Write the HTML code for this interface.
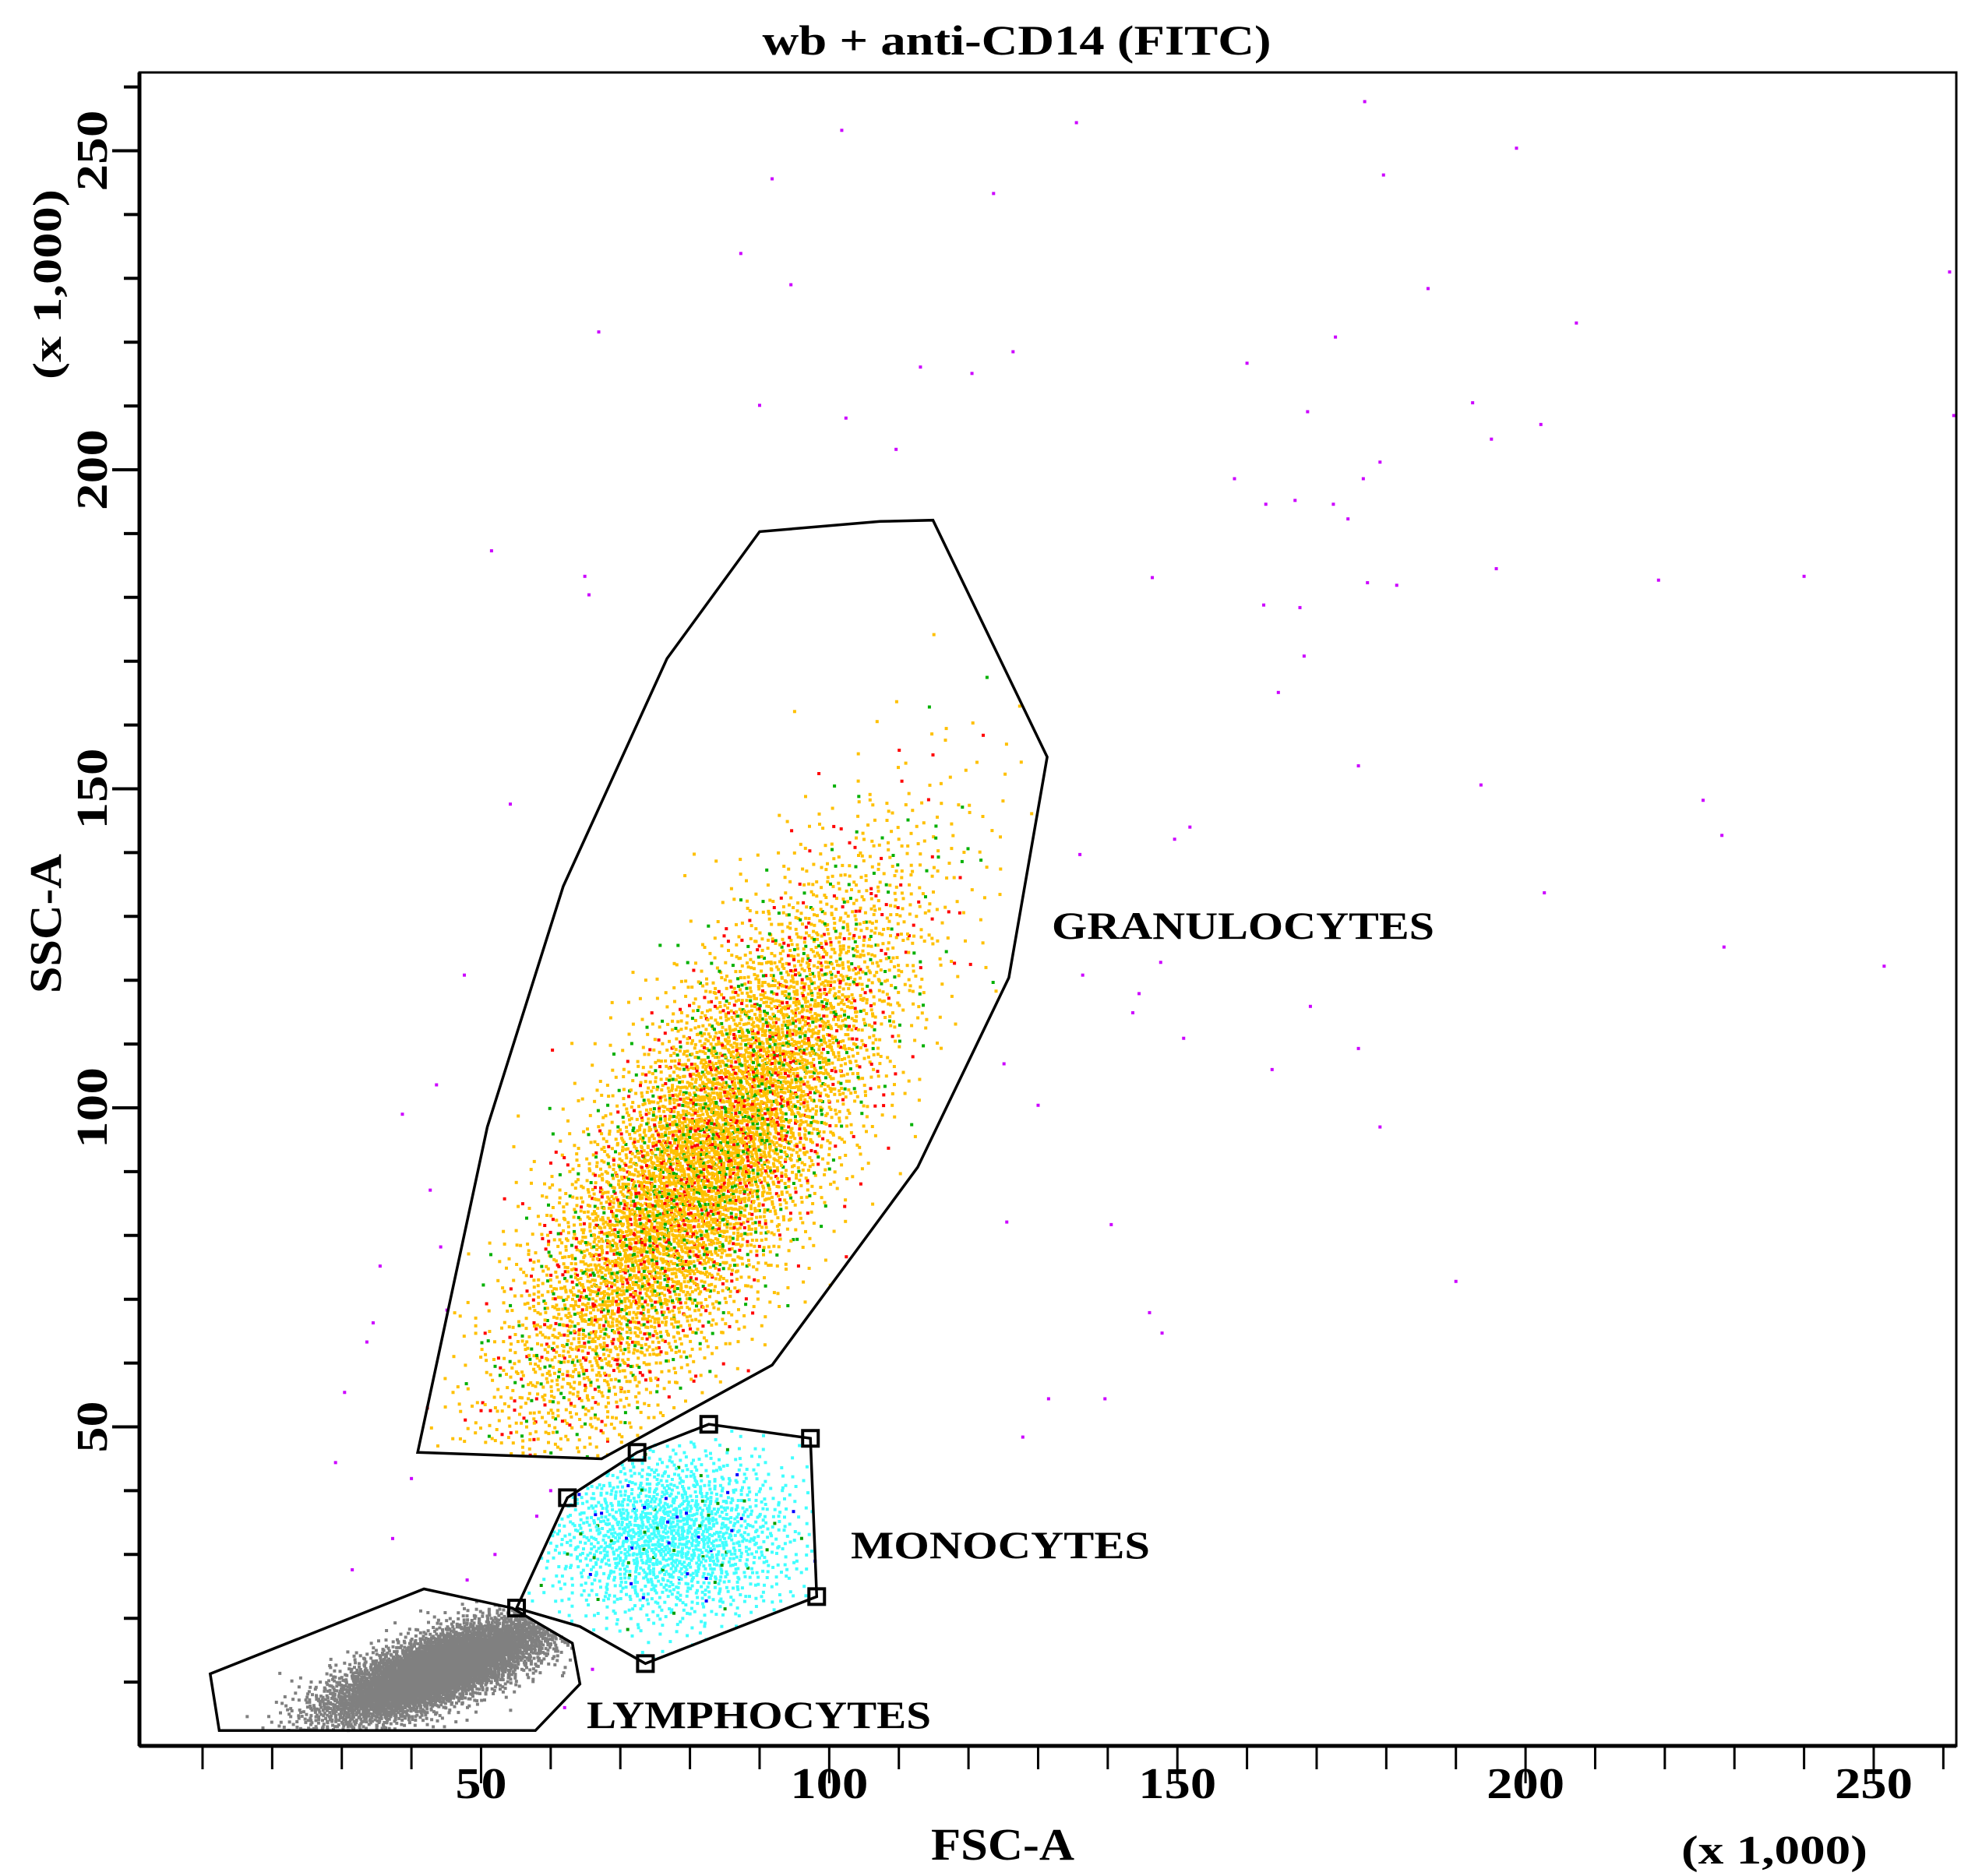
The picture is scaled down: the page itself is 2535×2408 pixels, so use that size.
<!DOCTYPE html>
<html><head><meta charset="utf-8"><style>
html,body{margin:0;padding:0;background:#fff;}
svg{display:block;font-family:"Liberation Serif",serif;font-weight:bold;}
</style></head><body>
<svg id="chart" width="2535" height="2408" viewBox="0 0 2535 2408" xmlns="http://www.w3.org/2000/svg">
<rect x="0" y="0" width="2535" height="2408" fill="#fff"/>
<text x="1305" y="70" font-size="54" text-anchor="middle" textLength="653" lengthAdjust="spacingAndGlyphs">wb + anti-CD14 (FITC)</text>
<g id="dots"></g>
<g id="gates"></g>
<g id="axes"></g>
<text x="1350" y="1205" font-size="50" textLength="491" lengthAdjust="spacingAndGlyphs">GRANULOCYTES</text>
<text x="1092" y="2000" font-size="50" textLength="384" lengthAdjust="spacingAndGlyphs">MONOCYTES</text>
<text x="753" y="2218" font-size="50" textLength="442" lengthAdjust="spacingAndGlyphs">LYMPHOCYTES</text>
<text x="1195" y="2387" font-size="58" textLength="184" lengthAdjust="spacingAndGlyphs">FSC-A</text>
<text x="2158" y="2392" font-size="52" textLength="239" lengthAdjust="spacingAndGlyphs">(x 1,000)</text>
<text transform="translate(78,1275) rotate(-90)" font-size="58" textLength="179" lengthAdjust="spacingAndGlyphs">SSC-A</text>
<text transform="translate(78,487) rotate(-90)" font-size="52" textLength="244" lengthAdjust="spacingAndGlyphs">(x 1,000)</text>
</svg>
<script>
const xTicks = [50, 100, 150, 200, 250];
const yTicks = [50, 100, 150, 200, 250];
const granGate = [[40.9,46.0],[67.3,45.0],[91.8,59.7],[112.7,90.7],[125.8,120.4],[131.3,155.0],[114.9,192.1],[107.3,191.9],[90,190.3],[76.7,170.4],[61.8,134.7],[50.9,97.0]];
const monoGate = [[55.1,21.6],[62.4,38.9],[72.4,46.0],[82.7,50.4],[97.3,48.2],[98.2,23.4],[73.6,12.9],[64.2,18.7]];
const monoHandles = [[55.1,21.6],[62.4,38.9],[72.4,46.0],[82.7,50.4],[97.3,48.2],[98.2,23.4],[73.6,12.9]];
const lymphGate = [[11.1,11.3],[12.4,2.4],[57.8,2.4],[64.2,9.7],[63.1,16.1],[54.5,21.6],[41.8,24.6]];
// population clusters: center x, center y (data units), count
const clusterNames = ["granulocytes","monocytes","lymphocytes"];
const clusterCX = [82.5, 77, 44];
const clusterCY = [92, 33, 12];
const clusterN = [7500, 1800, 5500];
const outliers = [[101.8,253.2],[91.8,245.6],[123.6,243.3],[135.5,254.4],[176.9,257.7],[179.6,246.2],[198.7,250.4],[87.3,233.9],[94.5,229.0],[66.9,221.6],[113.1,216.1],[120.5,215.1],[126.4,218.5],[90.0,210.1],[102.4,208.1],[109.6,203.2],[160.0,216.7],[172.7,220.8],[186.0,228.4],[207.3,223.0],[192.4,210.5],[195.1,204.8],[202.2,207.1],[168.7,209.1],[179.1,201.2],[176.7,198.6],[162.7,194.6],[158.2,198.6],[166.9,195.2],[172.4,194.6],[174.5,192.3],[195.8,184.5],[181.5,181.9],[177.3,182.3],[167.6,178.4],[146.4,183.1],[219.1,182.7],[240.0,183.3],[162.4,178.8],[168.2,170.8],[164.5,165.1],[176.0,153.6],[193.6,150.6],[225.5,148.2],[228.2,142.7],[151.8,144.0],[149.6,142.1],[136.0,139.7],[202.7,133.7],[147.6,122.8],[144.5,117.9],[143.6,114.9],[150.9,110.9],[169.1,115.9],[176.0,109.3],[163.6,106.0],[179.1,97.0],[136.4,120.8],[130.0,100.4],[125.1,106.9],[125.5,82.1],[140.5,81.7],[146.0,67.9],[147.8,64.7],[139.6,54.4],[131.5,54.4],[127.8,48.4],[190.0,72.8],[228.5,125.2],[251.5,122.2],[260.9,231.0],[261.5,208.5],[51.5,187.3],[54.2,147.6],[47.6,120.8],[64.9,183.3],[65.5,180.4],[43.6,103.6],[38.7,99.0],[35.5,75.2],[33.6,63.3],[30.4,55.4],[29.1,44.4],[31.5,27.6],[37.3,32.5],[40.0,41.9],[45.1,68.3],[42.7,87.1],[44.2,78.2],[34.5,66.3],[60,40],[58,36],[52,30],[48,26],[66,12],[62,6]];

const NS = "http://www.w3.org/2000/svg";
const X0 = 170.6, XK = 8.9375, Y0 = 2241, YK = 8.19;
const L = 179, R = 2511, T = 93, B = 2241;
function sx(v){ return X0 + v*XK; }
function sy(v){ return Y0 - v*YK; }
function mk(tag, attrs, parent){ const e = document.createElementNS(NS, tag); for (const k in attrs) e.setAttribute(k, attrs[k]); parent.appendChild(e); return e; }

function halton(i, b){ let f = 1, r = 0; while (i > 0){ f /= b; r += f * (i % b); i = Math.floor(i / b); } return r; }
function inPoly(px, py, poly){ let c = false; for (let i = 0, j = poly.length-1; i < poly.length; j = i++){ const xi = sx(poly[i][0]), yi = sy(poly[i][1]), xj = sx(poly[j][0]), yj = sy(poly[j][1]); if (((yi > py) != (yj > py)) && (px < (xj-xi)*(py-yi)/(yj-yi)+xi)) c = !c; } return c; }

const dots = document.getElementById('dots');
const shape = [[210, 68, -57.5], [85, 58, 0], [80, 22, -20.7]];
const gatesFor = [granGate, monoGate, lymphGate];
for (let c = 0; c < 3; c++){
  const g = mk('g', {}, dots);
  
  
  const cx = sx(clusterCX[c]), cy = sy(clusterCY[c]);
  const [sa, sb, ang] = shape[c];
  const ca = Math.cos(ang*Math.PI/180), sn = Math.sin(ang*Math.PI/180);
  let parts = [];
  for (let i = 1; i <= clusterN[c]; i++){
    const u1 = halton(i + 20, 2), u2 = halton(i + 20, 3), u3 = halton(i + 20, 5);
    const r = Math.sqrt(-2*Math.log(Math.max(u1, 1e-6)));
    const a = r*Math.cos(2*Math.PI*u2)*sa, b = r*Math.sin(2*Math.PI*u2)*sb;
    const px = cx + a*ca - b*sn, py = cy + a*sn + b*ca;
    if (!inPoly(px, py, gatesFor[c])) continue;
    let col;
    if (c === 0) col = u3 < 0.78 ? '#ffc000' : (u3 < 0.89 ? '#ff0000' : '#00b000');
    else if (c === 1) col = u3 < 0.96 ? '#40ffff' : (u3 < 0.98 ? '#00a000' : '#0000ff');
    else col = '#808080';
    parts.push('<rect x="'+(px-2).toFixed(1)+'" y="'+(py-2).toFixed(1)+'" width="4" height="4" fill="'+col+'"/>');
  }
  g.innerHTML = parts.join('');
}
const og = mk('g', {}, dots);


for (const p of outliers){ mk('rect', {x: sx(p[0])-2, y: sy(p[1])-2, width: 4, height: 4, fill: '#cc00ff'}, og); }

const gates = document.getElementById('gates');
function poly(pts, name){ const e = mk('polygon', {points: pts.map(p => sx(p[0]).toFixed(1)+','+sy(p[1]).toFixed(1)).join(' '), fill: 'none', stroke: '#000', 'stroke-width': 3.5}, gates);
  
  
}
poly(granGate, 'granulocyte-gate');
poly(monoGate, 'monocyte-gate');
poly(lymphGate, 'lymphocyte-gate');
for (const p of monoHandles){ const h = mk('rect', {x: sx(p[0])-10, y: sy(p[1])-10, width: 20, height: 20, fill: 'none', stroke: '#000', 'stroke-width': 4}, gates);
  
  
}

const axes = document.getElementById('axes');
const frame = mk('rect', {x: L, y: T, width: R-L, height: B-T, fill: 'none', stroke: '#000', 'stroke-width': 3}, axes);


mk('line', {x1: L, y1: B, x2: R, y2: B, stroke: '#000', 'stroke-width': 5}, axes);
mk('line', {x1: L, y1: T, x2: L, y2: B, stroke: '#000', 'stroke-width': 5}, axes);
for (let v = 10; v <= 260; v += 10){
  const major = v % 50 === 0;
  const x = sx(v);
  if (x > L && x < R) mk('line', {x1: x, y1: B, x2: x, y2: B + (major ? 48 : 30), stroke: '#000', 'stroke-width': 3}, axes);
  const y = sy(v);
  if (y > T && y < B) mk('line', {x1: L, y1: y, x2: L - (major ? 35 : 20), y2: y, stroke: '#000', 'stroke-width': 4}, axes);
}
for (const t of xTicks){ const w = String(t).length === 3 ? 100 : 66;
  const e = mk('text', {x: sx(t) - w/2, y: 2308, 'font-size': 56, textLength: w, lengthAdjust: 'spacingAndGlyphs'}, axes); e.textContent = t;
  
  
}
for (const t of yTicks){ const w = String(t).length === 3 ? 104 : 66;
  const e = mk('text', {transform: 'translate(137,'+(sy(t) + w/2)+') rotate(-90)', 'font-size': 56, textLength: w, lengthAdjust: 'spacingAndGlyphs'}, axes); e.textContent = t;
  
  
}
</script>
</body></html>
